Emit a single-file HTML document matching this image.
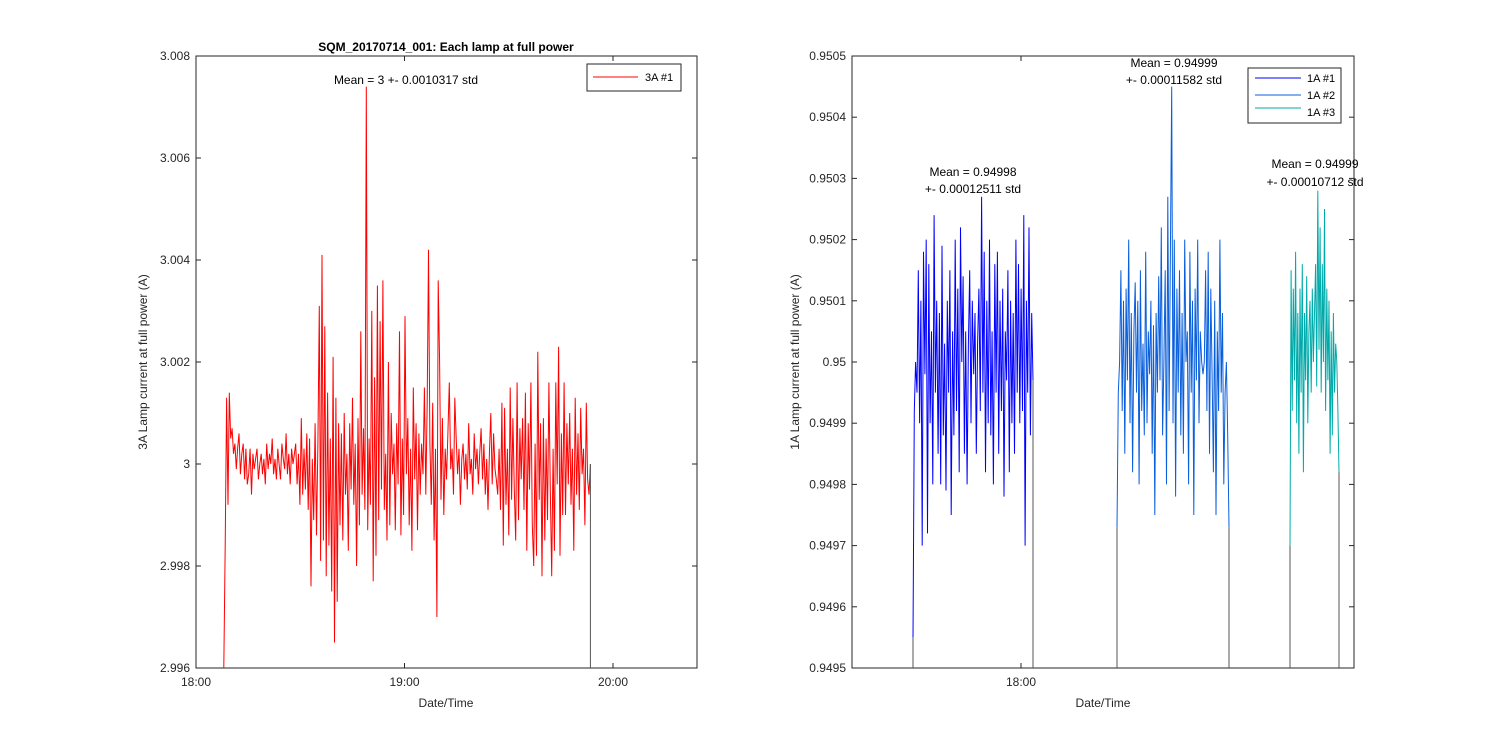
<!DOCTYPE html>
<html><head><meta charset="utf-8"><style>
body{margin:0;background:#fff;width:1500px;height:750px;overflow:hidden}
svg{font-family:"Liberation Sans",Arial,sans-serif}
</style></head><body>
<svg id="c" width="1500" height="750" font-size="12">
<rect width="1500" height="750" fill="#fff"/>
</svg>
<script>
// ---------- DATA ----------
const leftStartMin = 8, leftEndMin = 113.5;
const leftVals = [-4,-1.6,1.3,-0.8,1.4,0.5,0.7,0.2,0.4,-0.1,0.3,0.6,-0.2,0.2,0.4,-0.3,0.3,-0.4,-0.2,0.3,-0.6,0.2,-0.1,0.1,0.3,-0.3,0.0,0.2,-0.2,0.1,-0.4,0.4,-0.1,0.2,0.0,0.5,-0.2,0.1,-0.3,0.3,0.0,-0.3,0.4,0.1,-0.1,0.6,-0.2,0.2,-0.4,0.3,0.0,0.2,
0.4,-0.4,0.2,-0.8,0.9,-0.6,0.3,-0.5,0.6,-0.9,0.5,-2.4,0.1,-1.1,0.8,-1.4,0.4,3.1,-1.9,4.1,-1.5,2.7,-2.2,1.4,-1.6,0.5,-2.5,2.1,-3.5,1.3,-2.7,0.8,-1.2,0.6,-1.5,1.0,-0.6,0.2,
-1.7,0.8,-0.5,1.3,-0.8,0.4,-2.0,0.9,-1.2,2.6,-0.6,0.7,-0.9,7.4,-1.3,0.5,-0.8,3.0,-2.3,1.7,-1.8,3.5,-1.1,2.8,-0.5,3.6,-0.9,0.2,-1.5,2.0,-1.2,1.0,-0.2,0.4,-1.3,0.8,-0.4,2.6,-1.4,
0.5,-1.0,2.9,-0.2,0.9,-1.2,0.3,-1.7,1.5,-0.3,0.8,-1.3,0.6,-0.6,0.4,-0.2,1.5,-0.6,1.2,4.2,0.4,-0.8,1.2,-1.5,0.3,-3.0,3.6,2.0,-0.7,0.9,-1.0,0.3,-0.3,0.6,1.6,-0.1,0.3,-0.6,1.3,0.5,-0.2,0.3,-0.8,0.1,
0.4,-0.3,0.2,-0.5,0.8,-0.2,0.1,-0.6,0.6,-0.1,0.3,-0.4,0.2,0.7,-0.3,0.4,-0.6,0.1,-0.9,0.2,1.0,-0.4,0.6,-0.1,-0.3,-0.6,0.3,-0.9,1.2,-1.6,1.1,-0.8,0.3,-1.4,1.5,-0.7,0.9,-0.5,
-1.5,1.6,-1.1,0.7,-0.3,0.9,-0.9,1.4,-1.7,0.8,-0.5,1.6,-1.2,-2.0,0.4,-1.8,2.2,-0.7,0.8,-2.2,0.9,-1.5,0.5,-1.1,1.6,-0.5,-2.2,0.3,-1.7,1.6,-0.4,2.3,-1.8,0.6,-1.0,1.6,-1.0,0.8,-0.4,1.0,-0.8,0.3,-1.7,1.3,-0.6,0.6,-0.9,1.1,-0.2,0.3,-1.2,1.2,-0.3,-0.6,0.0];
const leftYTicks = [2.996,2.998,3,3.002,3.004,3.006,3.008];
const leftYTickLabels = ["2.996","2.998","3","3.002","3.004","3.006","3.008"];
const leftXTicks = [0,60,120];
const leftXTickLabels = ["18:00","19:00","20:00"];

const s1Range = [-10.8, 1.2];
const s1Vals = [-45,-8,0,-5,15,-10,10,-30,18,-2,20,-28,16,-10,5,-20,24,-5,10,-15,8,-20,19,-12,3,-21,10,-5,15,-25,5,-12,20,-8,12,-18,22,0,14,-15,5,-20,3,15,-10,10,-2,8,-15,3,12,-8,27,-5,18,-18,10,-10,20,-12,5,-20,16,-5,18,-15,10,-8,12,-22,5,-3,15,-18,10,-10,8,-15,20,-5,16,-10,12,-8,24,-30,10,-5,22,-12,8,-3];
const s2Range = [9.6, 20.8];
const s2Vals = [-27,-5,0,15,-8,10,-15,12,-3,20,-10,8,-18,5,13,-5,10,-20,15,-8,3,-12,18,-10,5,-2,10,-15,6,-25,8,-5,14,-3,22,-12,0,15,-20,27,-8,18,45,-10,20,-22,12,-5,15,-12,8,-15,20,0,5,-20,18,-5,10,-25,12,-3,20,-10,5,0,-2,0,15,-8,18,-15,12,-2,-18,10,-25,5,-8,20,-5,8,-20,-5,0,-12,-27];
const s3Range = [26.9, 31.8];
const s3Vals = [-30,15,-8,12,-3,18,-10,8,-15,12,-5,16,-18,8,-3,14,-10,5,10,-5,12,0,8,16,-4,28,2,22,-5,16,0,25,-8,12,-3,10,-15,5,-12,8,-5,3,0,-8,-18];
const rightYTicks = [0.9495,0.9496,0.9497,0.9498,0.9499,0.95,0.9501,0.9502,0.9503,0.9504,0.9505];
const rightYTickLabels = ["0.9495","0.9496","0.9497","0.9498","0.9499","0.95","0.9501","0.9502","0.9503","0.9504","0.9505"];
const rightXTicks = [0];
const rightXTickLabels = ["18:00"];

// ---------- AXES ----------
const svg = document.getElementById('c');
const NS = 'http://www.w3.org/2000/svg';
function mk(tag, attrs, parent){const e=document.createElementNS(NS,tag);for(const k in attrs)e.setAttribute(k,attrs[k]);(parent||svg).appendChild(e);return e;}
const L = {x0:196,x1:697,y0:56,y1:668};
const R = {x0:852,x1:1354,y0:56,y1:668};
const lx = m => 196 + m*(208.5/60);
const ly = v => 668 - (v-2.996)/0.012*612;
const rx = m => 1021 + m*10;
const ry = v => 668 - (v-0.9495)/0.001*612;

function drawAxes(B, xt, xtl, xf, yt, ytl, yf, name){
  const g = mk('g',{});
  
  
  xt.forEach((t,i)=>{const x=xf(t); if(x<B.x0-0.5||x>B.x1+0.5)return;
    mk('line',{x1:x,x2:x,y1:B.y1,y2:B.y1-5,stroke:'#262626'},g);
    mk('line',{x1:x,x2:x,y1:B.y0,y2:B.y0+5,stroke:'#262626'},g);
    const t2=mk('text',{x:x,y:B.y1+18,'text-anchor':'middle',fill:'#262626'},g);t2.textContent=xtl[i];
    
    
  });
  yt.forEach((t,i)=>{const y=yf(t);
    mk('line',{x1:B.x0,x2:B.x0+5,y1:y,y2:y,stroke:'#262626'},g);
    mk('line',{x1:B.x1,x2:B.x1-5,y1:y,y2:y,stroke:'#262626'},g);
    const t2=mk('text',{x:B.x0-6,y:y+4,'text-anchor':'end',fill:'#262626'},g);t2.textContent=ytl[i];
    
    
  });
  mk('rect',{x:B.x0,y:B.y0,width:B.x1-B.x0,height:B.y1-B.y0,fill:'none',stroke:'#262626','stroke-width':1},g);
}

function series(vals, range, xf, yfun, color, name, endY){
  const n = vals.length;
  const pts = vals.map((v,i)=>{const m = range[0]+(range[1]-range[0])*i/(n-1); return [xf(m), yfun(v)];});
  const p = mk('polyline',{points:pts.map(p=>p[0].toFixed(1)+','+p[1].toFixed(1)).join(' '),fill:'none',stroke:color,'stroke-width':1});
  
  
  const first=pts[0], last=pts[n-1];
  const a=mk('line',{x1:first[0],x2:first[0],y1:first[1],y2:endY,stroke:'#555'});
  
  
  const b=mk('line',{x1:last[0],x2:last[0],y1:last[1],y2:endY,stroke:'#555'});
  
  
}

drawAxes(L,leftXTicks,leftXTickLabels,lx,leftYTicks,leftYTickLabels,ly,'left-axes');
drawAxes(R,rightXTicks,rightXTickLabels,rx,rightYTicks,rightYTickLabels,ry,'right-axes');
series(leftVals,[leftStartMin,leftEndMin],lx,v=>ly(3+v/1000),'#ff0000','series-3a-1',668);
series(s1Vals,s1Range,rx,v=>ry(0.95+v*1e-5),'#0000ff','series-1a-1',668);
series(s2Vals,s2Range,rx,v=>ry(0.95+v*1e-5),'#0a5fdc','series-1a-2',668);
series(s3Vals,s3Range,rx,v=>ry(0.95+v*1e-5),'#00aaaa','series-1a-3',668);
</script>
<svg width="1500" height="750" style="position:absolute;left:0;top:0" font-size="12" fill="#000">
<text x="446" y="51" text-anchor="middle" font-weight="bold">SQM_20170714_001: Each lamp at full power</text>
<text x="406" y="84" text-anchor="middle">Mean = 3 +- 0.0010317 std</text>
<text x="446" y="707" text-anchor="middle" fill="#262626">Date/Time</text>
<text transform="translate(147,362) rotate(-90)" text-anchor="middle" fill="#262626">3A Lamp current at full power (A)</text>
<g>
<rect x="587" y="64" width="94" height="27" fill="#fff" stroke="#262626"/>
<line x1="593" x2="638" y1="77" y2="77" stroke="#f00"/>
<text x="645" y="81" font-size="11">3A #1</text></g>
<text x="1103" y="707" text-anchor="middle" fill="#262626">Date/Time</text>
<text transform="translate(799,362) rotate(-90)" text-anchor="middle" fill="#262626">1A Lamp current at full power (A)</text>
<text x="973" y="176" text-anchor="middle">Mean = 0.94998</text>
<text x="973" y="193" text-anchor="middle">+- 0.00012511 std</text>
<text x="1174" y="67" text-anchor="middle">Mean = 0.94999</text>
<text x="1174" y="84" text-anchor="middle">+- 0.00011582 std</text>
<text x="1315" y="168" text-anchor="middle">Mean = 0.94999</text>
<text x="1315" y="186" text-anchor="middle">+- 0.00010712 std</text>
<g>
<rect x="1248" y="68" width="93" height="55" fill="#fff" stroke="#262626"/>
<line x1="1255" x2="1301" y1="78" y2="78" stroke="#00f"/><text x="1307" y="82" font-size="11">1A #1</text>
<line x1="1255" x2="1301" y1="95" y2="95" stroke="#0a5fdc"/><text x="1307" y="99" font-size="11">1A #2</text>
<line x1="1255" x2="1301" y1="108" y2="108" stroke="#0aa"/><text x="1307" y="116" font-size="11">1A #3</text></g>
</svg>
</body></html>
